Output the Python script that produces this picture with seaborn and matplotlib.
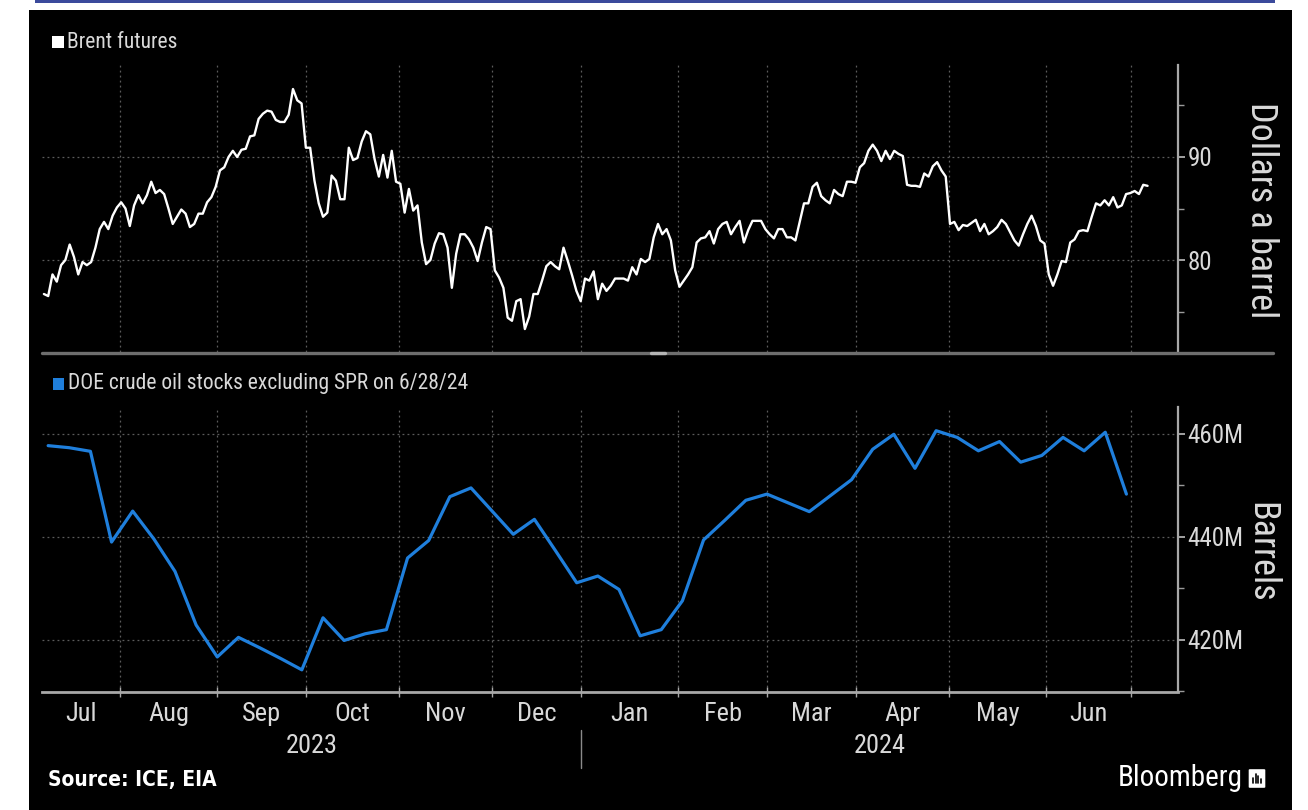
import numpy as np
import pandas as pd
import matplotlib
matplotlib.use("Agg")
import matplotlib.pyplot as plt
import matplotlib.transforms as mtransforms
from matplotlib import font_manager as fm
from matplotlib.patches import Rectangle, FancyBboxPatch
from matplotlib.lines import Line2D
import seaborn as sns

# ---------------- data ----------------
brent = [
    76.7, 76.5, 78.6, 77.9, 79.5, 80.0, 81.5, 80.3, 78.6, 79.8,
    79.5, 79.8, 81.2, 83.0, 83.7, 83.0, 84.3, 85.1, 85.6, 85.0,
    83.3, 85.3, 86.3, 85.5, 86.3, 87.6, 86.5, 86.8, 86.4, 85.0,
    83.5, 84.2, 84.9, 84.5, 83.2, 83.5, 84.5, 84.5, 85.6, 86.1,
    87.1, 88.7, 89.0, 90.0, 90.6, 90.0, 90.7, 90.8, 92.0, 92.1,
    93.7, 94.2, 94.5, 94.4, 93.6, 93.4, 93.4, 94.1, 96.6, 95.5,
    95.2, 90.9, 90.9, 87.7, 85.5, 84.2, 84.6, 88.2, 87.7, 85.9,
    85.9, 90.9, 89.7, 89.9, 91.5, 92.5, 92.2, 89.8, 88.1, 90.2,
    88.0, 90.6, 87.6, 87.4, 84.6, 86.9, 84.8, 85.3, 81.7, 79.6,
    80.0, 81.6, 82.6, 82.5, 81.2,
    77.3, 80.6, 82.5, 82.5, 82.0, 81.2, 79.9, 81.7, 83.2, 83.0,
    79.0, 78.3, 77.3, 74.4, 74.1, 76.0, 76.2, 73.3, 74.5, 76.7,
    76.7, 78.0, 79.4, 79.8, 79.4, 79.1, 81.2, 79.9, 78.5, 77.0,
    76.0, 78.2, 78.0, 78.9, 76.2, 77.7, 77.0, 77.5, 78.2, 78.2,
    78.2, 78.0, 79.3, 78.6, 80.1, 79.8, 80.1, 82.2, 83.5, 82.5,
    83.0, 81.9, 79.0, 77.4, 78.0, 78.6, 79.3, 81.7, 82.1, 82.2,
    82.8, 81.6, 83.0, 83.5, 83.7, 82.5, 83.2, 83.8, 81.7, 82.9,
    83.8, 83.8, 83.8, 83.0, 82.5, 82.1, 83.0, 83.0, 82.2, 82.2,
    81.9,
    83.7, 85.5, 85.5, 87.1, 87.5, 86.2, 85.8, 85.5, 86.8, 86.4,
    86.2, 87.6, 87.6, 87.5, 89.0, 89.4, 90.6, 91.2, 90.6, 89.6,
    90.6, 89.8, 90.6, 90.3, 90.1, 87.3, 87.2, 87.2, 87.1, 88.4,
    88.1, 89.1, 89.5, 88.7, 88.1, 83.5, 83.7, 82.9, 83.4, 83.3,
    83.6, 83.9, 82.8, 83.5, 82.5, 82.8, 83.2, 83.9, 83.5, 82.7,
    81.9, 81.4, 82.5, 83.5, 84.3, 83.3, 81.9, 81.6, 78.6, 77.5,
    78.6, 79.9, 79.8, 81.7, 82.0, 82.8, 82.9, 82.8, 84.2, 85.5,
    85.3, 85.8, 85.3, 86.1, 85.1, 85.3, 86.4, 86.5, 86.7, 86.4,
    87.3, 87.2,
]
brent_start = "2023-07-06"
brent_end = "2024-07-05"

stocks = [
    457.7, 457.3, 456.6, 439.0, 445.0, 439.6, 433.3, 422.9, 416.7, 420.5,
    418.5, 416.4, 414.2, 424.3, 419.9, 421.2, 422.0, 435.9, 439.3, 447.8,
    449.5, 445.0, 440.5, 443.4, 437.3, 431.1, 432.4, 429.8, 420.8, 422.0,
    427.6, 439.4, 443.2, 447.1, 448.3, 446.6, 444.9, 448.0, 451.1, 457.0,
    459.9, 453.3, 460.6, 459.3, 456.7, 458.5, 454.5, 455.8, 459.3, 456.7,
    460.3, 448.3,
]
stocks_start = "2023-07-07"   # weekly (Fridays)

months = ["Jul", "Aug", "Sep", "Oct", "Nov", "Dec",
          "Jan", "Feb", "Mar", "Apr", "May", "Jun"]
month_starts = pd.date_range("2023-07-01", "2024-07-01", freq="MS")
years = ["2023", "2024"]
year_starts = ["2023-01-01", "2024-01-01", "2025-01-01"]

brent_ticks = [80, 90]
brent_minor = [75, 85, 95]
stock_ticks = [420, 440, 460]
stock_ticklabels = ["420M", "440M", "460M"]
stock_minor = [410, 430, 450]

brent_label = "Brent futures"
stock_label = "DOE crude oil stocks excluding SPR on 6/28/24"

# ---------------- trading-day axis ----------------
origin = np.datetime64("2023-07-03")


def bidx(d):
    d = pd.to_datetime(d)
    arr = np.atleast_1d(np.asarray(d, dtype="datetime64[D]"))
    return np.busday_count(origin, arr)


XLIM = (2.55, 271.2)
brent_x = np.linspace(bidx(brent_start)[0], bidx(brent_end)[0], len(brent))
stock_x = bidx(pd.date_range(stocks_start, periods=len(stocks), freq="7D"))
month_x = bidx(month_starts)
grid_x = [m for m in month_x if XLIM[0] < m < XLIM[1]]

# ---------------- style ----------------
sns.set_theme(style="dark")

# pick a narrow sans if one is installed (Bloomberg uses a condensed face)
ttf = fm.fontManager.ttflist
names = {f.name for f in ttf}
FAM, STRETCH = None, "normal"
for n in ["Liberation Sans Narrow", "Roboto Condensed", "Open Sans Condensed",
          "Noto Sans Condensed", "DejaVu Sans Condensed", "Arial Narrow"]:
    if n in names:
        FAM = n
        break
if FAM is None:
    for n in ["DejaVu Sans", "Noto Sans", "Open Sans", "Roboto"]:
        if any(f.name == n and str(f.stretch) in ("condensed", "semi-condensed",
                                                  "extra-condensed") for f in ttf):
            FAM, STRETCH = n, "condensed"
            break
if FAM is None:
    FAM = "Liberation Sans"
plt.rcParams["font.family"] = [FAM, "Liberation Sans", "DejaVu Sans"]
plt.rcParams["font.stretch"] = STRETCH
NARROW = FAM != "Liberation Sans"

S_TICK = 18 if NARROW else 15
S_LEG = 15.5 if NARROW else 13.5
S_TITLE = 26 if NARROW else 22

W, H = 1308, 810
fig = plt.figure(figsize=(W / 100, H / 100), dpi=100, facecolor="white")

TXT = "#d9d9d9"
GRID = "#5c5c5c"

# black panel + blue top rule
fig.patches.append(Rectangle((29 / W, 0), (1292 - 29) / W, (810 - 10) / H,
                             transform=fig.transFigure, facecolor="black",
                             edgecolor="none", zorder=-10))
fig.patches.append(Rectangle((35 / W, 1 - 3 / H), (1275 - 35) / W, 3 / H,
                             transform=fig.transFigure, facecolor="#3b4a9c",
                             edgecolor="none", zorder=-9))


def ax_rect(x0, y0, x1, y1):
    return [x0 / W, 1 - y1 / H, (x1 - x0) / W, (y1 - y0) / H]


ax1 = fig.add_axes(ax_rect(42, 65, 1178, 352))
ax2 = fig.add_axes(ax_rect(42, 407, 1178, 692))

sns.lineplot(x=brent_x, y=brent, ax=ax1, color="white", linewidth=1.7,
             sort=False, estimator=None)
sns.lineplot(x=stock_x, y=stocks, ax=ax2, color="#1f7fdc", linewidth=2.3,
             sort=False, estimator=None)

for ax in (ax1, ax2):
    ax.set_facecolor("black")
    ax.set_xticks(grid_x)
    ax.set_xticklabels([])
    ax.grid(True, which="major", color=GRID, linestyle=(0, (1.5, 2.5)), linewidth=0.9)
    ax.set_axisbelow(True)
    for s in ("left", "top"):
        ax.spines[s].set_visible(False)
    ax.spines["right"].set_visible(True)
    ax.spines["right"].set_color("#a8a8a8")
    ax.spines["right"].set_linewidth(1.6)
    ax.yaxis.tick_right()
    ax.tick_params(axis="y", which="major", right=True, left=False, direction="out",
                   length=5, width=1.2, color="#bdbdbd", labelsize=S_TICK,
                   labelcolor=TXT, pad=2)
    ax.tick_params(axis="y", which="minor", right=True, left=False, direction="out",
                   length=4, width=1.0, color="#9a9a9a")
    ax.set_xlabel("")
    ax.set_ylabel("")

# top panel
ax1.set_yticks(brent_ticks)
ax1.set_yticks(brent_minor, minor=True)
ax1.set_ylim(71.07, 98.93)
ax1.spines["bottom"].set_visible(False)
ax1.tick_params(axis="x", which="both", length=0)

# bottom panel
ax2.set_yticks(stock_ticks)
ax2.set_yticklabels(stock_ticklabels)
ax2.set_yticks(stock_minor, minor=True)
ax2.set_ylim(409.9, 465.2)
ax2.spines["bottom"].set_visible(True)
ax2.spines["bottom"].set_color("#a8a8a8")
ax2.spines["bottom"].set_linewidth(2.0)
ax2.tick_params(axis="x", which="major", direction="inout", length=7, width=1.0,
                color="#a8a8a8", bottom=True)

# month labels centered in the visible part of each month
centers = []
for i in range(len(months)):
    a = max(month_x[i], XLIM[0])
    b = min(month_x[i + 1], XLIM[1])
    centers.append((a + b) / 2)
ax2.set_xticks(centers, minor=True)
ax2.set_xticklabels(months, minor=True)
ax2.tick_params(axis="x", which="minor", length=0, labelsize=S_TICK + 1,
                labelcolor=TXT, pad=7)

for ax in (ax1, ax2):
    ax.set_xlim(*XLIM)

# year labels
blend = mtransforms.blended_transform_factory(ax2.transData, ax2.transAxes)
ybounds = bidx(year_starts)
for i, yr in enumerate(years):
    a = max(ybounds[i], XLIM[0])
    b = min(ybounds[i + 1], XLIM[1])
    ax2.text((a + b) / 2, -0.19, yr, transform=blend, ha="center", va="center",
             fontsize=S_TICK + 1, color=TXT)
ax2.add_line(Line2D([ybounds[1], ybounds[1]], [-0.135, -0.265], transform=blend,
                    color="#8a8a8a", linewidth=1.0, clip_on=False))

# separator between panels
fig.add_artist(Line2D([42 / W, 1273 / W], [1 - 353 / H, 1 - 353 / H],
                      transform=fig.transFigure, color="#6e6e6e", linewidth=2.4))
fig.add_artist(Line2D([651 / W, 665 / W], [1 - 353 / H, 1 - 353 / H],
                      transform=fig.transFigure, color="#b5b5b5", linewidth=2.4))

# legends
fig.patches.append(Rectangle((52 / W, 1 - 48 / H), 12 / W, 12 / H,
                             transform=fig.transFigure, facecolor="white",
                             edgecolor="none"))
fig.text(67 / W, 1 - 42 / H, brent_label, ha="left", va="center", fontsize=S_LEG,
         color=TXT)
fig.patches.append(Rectangle((53 / W, 1 - 390 / H), 11 / W, 12 / H,
                             transform=fig.transFigure, facecolor="#1f7fdc",
                             edgecolor="none"))
fig.text(68 / W, 1 - 384 / H, stock_label, ha="left", va="center", fontsize=S_LEG,
         color=TXT)

# axis titles
fig.text(1261 / W, 1 - 210 / H, "Dollars a barrel", rotation=270, ha="center",
         va="center", fontsize=S_TITLE, color=TXT)
fig.text(1261 / W, 1 - 552 / H, "Barrels", rotation=270, ha="center",
         va="center", fontsize=S_TITLE, color=TXT)

# footer
fig.text(48 / W, 1 - 780 / H, "Source: ICE, EIA", ha="left", va="center",
         fontsize=15, fontweight="bold", color="white",
         family=["DejaVu Sans"], stretch="condensed")
fig.text(1243 / W, 1 - 778 / H, "Bloomberg", ha="right", va="center",
         fontsize=21, color="white")
fig.patches.append(FancyBboxPatch((1250 / W, 1 - 787 / H), 14 / W, 17 / H,
                                  boxstyle="round,pad=0.001",
                                  transform=fig.transFigure, facecolor="white",
                                  edgecolor="none"))
for k, hgt in enumerate([5, 9, 7, 4]):
    xx = (1253 + k * 2.7) / W
    fig.add_artist(Line2D([xx, xx], [1 - 783 / H, 1 - (783 - hgt) / H],
                          transform=fig.transFigure, color="black", linewidth=1.2))

fig.savefig("out.png", dpi=100, facecolor="white")
